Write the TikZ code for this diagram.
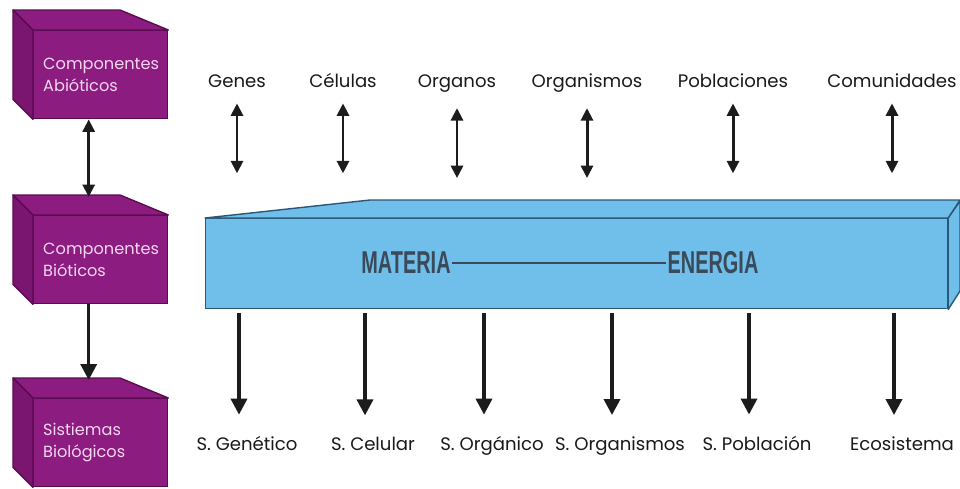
\documentclass[tikz,border=0pt]{standalone}
\usepackage{fontspec}
\setmainfont{Poppins}
\newfontfamily\rotulo{Liberation Sans}
\usetikzlibrary{calc,arrows.meta}
\definecolor{cmorado}{HTML}{8C1C80}
\definecolor{cmoradoosc}{HTML}{5A0C52}
\definecolor{cmoradolado}{HTML}{7A1670}
\definecolor{ctexto}{HTML}{F4D6F0}
\definecolor{cazul}{HTML}{70BFEA}
\definecolor{cazulosc}{HTML}{2C5877}
\definecolor{cletra}{HTML}{3A4A5A}
\definecolor{cflecha}{HTML}{1C1C1C}

\tikzset{
  cubo/.style={draw=cmoradoosc, fill=cmorado, line width=0.8pt, anchor=north west,
    minimum width=2.68cm, minimum height=1.76cm, text width=2.3cm, inner xsep=0.19cm,
    align=left, text=ctexto, font=\fontsize{9.2}{12.5}\selectfont},
  cara/.style={draw=cmoradoosc, fill=cmoradolado, line width=0.8pt, line join=round},
  losa/.style={draw=cazulosc, fill=cazul, line width=0.8pt, anchor=north west,
    minimum width=14.84cm, minimum height=1.8cm, inner sep=0pt},
  caraazul/.style={draw=cazulosc, fill=cazul, line width=0.8pt, line join=round},
  etiq/.style={font=\fontsize{10.3}{12}\selectfont, text=black!90, anchor=base},
  grande/.style={font=\rotulo\bfseries\fontsize{18}{18}\selectfont, text=cletra, xscale=0.63, inner sep=1pt},
  flecha/.style={-{Triangle[length=0.32cm,width=0.32cm]}, line width=2pt, draw=cflecha},
  dflecha/.style={{Triangle[length=0.25cm,width=0.24cm]}-{Triangle[length=0.25cm,width=0.24cm]},
    line width=1.7pt, draw=cflecha}
}

\begin{document}
\begin{tikzpicture}[x=0.02cm, y=-0.02cm]
  \useasboundingbox (0,0) rectangle (960,488);

  % cubos de la izquierda
  \node[cubo] (abio) at (33,30) {Componentes\\Abióticos};
  \node[cubo] (bio) at (33,215) {Componentes\\Bióticos};
  \node[cubo] (sist) at (33,398) {Sistiemas\\Biológicos};
  \foreach \n in {abio,bio,sist} {
    \draw[cara, fill=cmorado] (\n.north west) -- ++(-20,-20) -- ++(107,0) -- (\n.north east) -- cycle;
    \draw[cara] (\n.north west) -- ++(-20,-20) -- ($(\n.south west)+(-20,-20)$) -- (\n.south west) -- cycle;
  }
  \draw[dflecha] ([xshift=-0.24cm]abio.south) -- ([xshift=-0.24cm,yshift=0.36cm]bio.north);
  \draw[flecha] ([xshift=-0.24cm]bio.south) -- ([xshift=-0.24cm,yshift=0.36cm]sist.north);

  % bloque azul
  \node[losa] (losa) at (205,218) {};
  \draw[caraazul] (losa.north west) -- (370,200) -- (960,200) -- (losa.north east) -- cycle;
  \draw[caraazul] (losa.north east) -- (960,201) -- (960,291) -- (losa.south east) -- cycle;
  \node[grande] (materia) at (406,263) {MATERIA};
  \node[grande] (energia) at (713,263) {ENERGIA};
  \draw[cletra, line width=1.1pt] (materia.east) -- (energia.west);

  % niveles de arriba
  \foreach \x/\n/\t in {237/genes/Genes, 343/celulas/Células, 457/organos/Organos,
      587/organismos/Organismos, 733/poblaciones/Poblaciones, 892/comunidades/Comunidades} {
    \node[etiq] (\n) at (\x,87) {\t};
    \draw[dflecha] ([yshift=-0.2cm]\n.south) -- ++(0,70);
  }

  % sistemas de abajo
  \foreach \x/\n/\t in {247/sgen/S. Genético, 373/scel/S. Celular, 492/sorg/S. Orgánico,
      620/sorgm/S. Organismos, 757/spob/S. Población, 902/eco/Ecosistema} {
    \node[etiq] (\n) at (\x,450) {\t};
    \draw[flecha] ([xshift=-0.16cm,yshift=-0.08cm]\n.north |- losa.south) -- ([xshift=-0.16cm,yshift=0.3cm]\n.north);
  }
\end{tikzpicture}
\end{document}
